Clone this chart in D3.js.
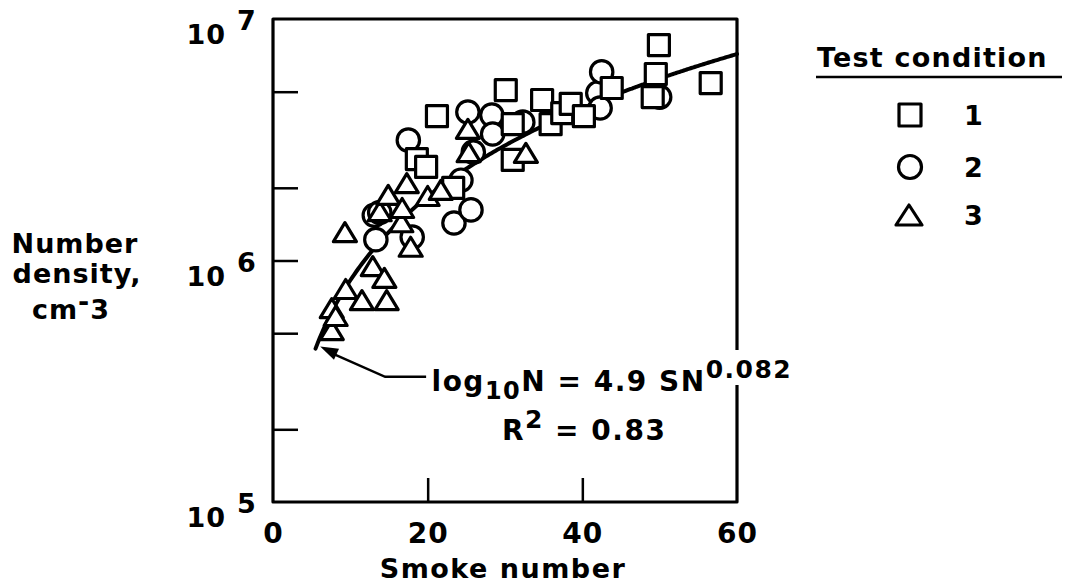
<!DOCTYPE html>
<html>
<head>
<meta charset="utf-8">
<script src="https://cdn.jsdelivr.net/npm/d3@7"></script>
<style>
  html, body { margin: 0; padding: 0; background: #fff; }
  text { font-family: "DejaVu Sans", "Liberation Sans", sans-serif; font-weight: bold; fill: #000; }
</style>
</head>
<body>
<svg id="chart" width="1068" height="583"></svg>
<script>
// ---- Data: smoke number (SN) vs particle number density (cm^-3) ----
// Test condition 1 (squares)
const cond1SN = [18.6, 19.8, 21.2, 23.3, 30.1, 31.0, 31.0, 34.8, 35.9, 37.4, 38.5, 40.2, 43.8, 49.1, 49.5, 49.9, 56.6];
const cond1N  = [2.63e6, 2.44e6, 3.96e6, 2.00e6, 5.08e6, 3.67e6, 2.61e6, 4.62e6, 3.67e6, 4.08e6, 4.45e6, 3.96e6, 5.18e6, 4.75e6, 5.92e6, 7.80e6, 5.43e6];
// Test condition 2 (circles)
const cond2SN = [17.5, 13.1, 13.8, 13.3, 18.0, 23.4, 25.6, 24.3, 25.9, 25.2, 28.3, 28.4, 32.3, 42.0, 42.5, 42.3, 50.0];
const cond2N  = [3.15e6, 1.54e6, 1.58e6, 1.22e6, 1.25e6, 1.43e6, 1.62e6, 2.15e6, 2.81e6, 4.12e6, 4.00e6, 3.34e6, 3.74e6, 4.94e6, 6.04e6, 4.28e6, 4.75e6];
// Test condition 3 (triangles)
const cond3SN = [9.3, 7.6, 7.6, 8.1, 9.4, 11.5, 14.7, 12.9, 14.4, 17.8, 16.6, 13.8, 14.9, 17.3, 20.0, 21.7, 25.2, 25.3, 32.7, 16.7];
const cond3N  = [1.31e6, 5.15e5, 6.35e5, 5.89e5, 7.62e5, 6.85e5, 6.85e5, 9.48e5, 8.47e5, 1.14e6, 1.44e6, 1.60e6, 1.87e6, 2.09e6, 1.85e6, 1.96e6, 3.51e6, 2.81e6, 2.79e6, 1.65e6];

// Regression fit: log10 N = 4.9 * SN^0.082
const fitCoef = 4.9;
const fitExp = 0.082;
const fitRange = [5.5, 60];

// Axis ticks and labels
const xLabelTicks = [0, 20, 40, 60];
const xInnerTicks = [20, 40];
const yInnerTicks = [2e5, 5e5, 1e6, 2e6, 5e6];
const yLabelExps = [5, 6, 7];
const legendItems = ["1", "2", "3"];

// ---- Layout ----
const svg = d3.select("#chart");
const plotL = 273, plotR = 737, plotT = 19, plotB = 502;
const x = d3.scaleLinear().domain([0, 60]).range([plotL, plotR]);
const y = d3.scaleLog().domain([1e5, 1e7]).range([plotB, plotT]);

const STROKE = 3.2;

// Marker shape paths (centred on the origin)
const squarePath = "M-10.5,-10.5H10.5V10.5H-10.5Z";
const circleR = 11.2;
const trianglePath = "M0,-9.5L11.5,9.5L-11.5,9.5Z";

// ---- Frame (right edge is broken where the equation exponent crosses it) ----
svg.append("path")
  .attr("d", `M${plotR},350V${plotT}H${plotL}V${plotB}H${plotR}V385`)
  .attr("fill", "none").attr("stroke", "#000").attr("stroke-width", 3.2)
  .attr("stroke-linejoin", "round");

// Inward ticks via d3 axes
const xTickAxis = d3.axisBottom(x).tickValues(xInnerTicks).tickSize(-24).tickFormat("");
const gxt = svg.append("g").attr("transform", `translate(0,${plotB})`).call(xTickAxis);
gxt.select(".domain").remove();
gxt.selectAll(".tick line").attr("stroke", "#000").attr("stroke-width", 2.5);

const yTickAxis = d3.axisLeft(y).tickValues(yInnerTicks).tickSize(-25).tickFormat("");
const gyt = svg.append("g").attr("transform", `translate(${plotL},0)`).call(yTickAxis);
gyt.select(".domain").remove();
gyt.selectAll(".tick line").attr("stroke", "#000").attr("stroke-width", 2.5);

// X tick labels
const xLabAxis = d3.axisBottom(x).tickValues(xLabelTicks).tickSize(0).tickPadding(0).tickFormat(d3.format("d"));
const gxl = svg.append("g").attr("transform", `translate(0,${plotB})`).call(xLabAxis);
gxl.select(".domain").remove();
gxl.selectAll(".tick text")
  .attr("y", 41).attr("dy", 0)
  .style("font-family", '"DejaVu Sans", sans-serif')
  .style("font-weight", "bold").style("font-size", "28px").style("letter-spacing", "1px")
  .attr("fill", "#000");

// Y labels: powers of ten
const yLab = svg.append("g");
yLabelExps.forEach(e => {
  const py = y(Math.pow(10, e));
  yLab.append("text").attr("x", 226).attr("y", py + 25)
    .attr("text-anchor", "end").style("font-size", "27px").style("letter-spacing", "1px").text("10");
  yLab.append("text").attr("x", 237).attr("y", py + 11)
    .style("font-size", "27px").text(String(e));
});

// Axis titles
svg.append("text").attr("x", 503).attr("y", 578).attr("text-anchor", "middle")
  .style("font-size", "27px").style("letter-spacing", "1.5px").text("Smoke number");

const yTitle = svg.append("text").attr("text-anchor", "middle").style("font-size", "27px").style("letter-spacing", "1px");
yTitle.append("tspan").attr("x", 75).attr("y", 253).text("Number");
yTitle.append("tspan").attr("x", 77).attr("y", 283).text("density,");
const cmLine = yTitle.append("tspan").attr("x", 71).attr("y", 319);
cmLine.append("tspan").text("cm");
cmLine.append("tspan").attr("dy", -8).text("-");
cmLine.append("tspan").attr("dy", 8).text("3");

// ---- Regression curve ----
const fitSN = d3.range(fitRange[0], fitRange[1] + 0.001, 0.25);
const fitLine = d3.line()
  .x(d => x(d))
  .y(d => y(Math.pow(10, fitCoef * Math.pow(d, fitExp))))
  .curve(d3.curveMonotoneX);
svg.append("path").datum(fitSN)
  .attr("d", fitLine)
  .attr("fill", "none").attr("stroke", "#000").attr("stroke-width", 4)
  .attr("stroke-linecap", "round");

// ---- Data markers ----
const toPts = (sn, n) => sn.map((v, i) => ({ sn: v, n: n[i] }));

svg.append("g").selectAll("circle").data(toPts(cond2SN, cond2N)).join("circle")
  .attr("cx", d => x(d.sn)).attr("cy", d => y(d.n)).attr("r", circleR)
  .attr("fill", "#fff").attr("stroke", "#000").attr("stroke-width", STROKE);

svg.append("g").selectAll("path").data(toPts(cond1SN, cond1N)).join("path")
  .attr("transform", d => `translate(${x(d.sn)},${y(d.n)})`).attr("d", squarePath)
  .attr("fill", "#fff").attr("stroke", "#000").attr("stroke-width", STROKE)
  .attr("stroke-linejoin", "round");

svg.append("g").selectAll("path").data(toPts(cond3SN, cond3N)).join("path")
  .attr("transform", d => `translate(${x(d.sn)},${y(d.n)})`).attr("d", trianglePath)
  .attr("fill", "#fff").attr("stroke", "#000").attr("stroke-width", STROKE)
  .attr("stroke-linejoin", "round");

// ---- Annotation: arrow to the fit curve and the equation ----
const tip = [x(6.1), y(4.4e5)];
const elbow = [x(14.5), y(3.3e5)];
const tail = [x(19.8), y(3.3e5)];
svg.append("path")
  .attr("d", `M${tip[0] + 8},${tip[1] + 5}L${elbow[0]},${elbow[1]}H${tail[0]}`)
  .attr("fill", "none").attr("stroke", "#000").attr("stroke-width", 2.5);
const ang = Math.atan2(elbow[1] - tip[1], elbow[0] - tip[0]);
const hl = 18, hw = 6;
const bx = tip[0] + hl * Math.cos(ang), by = tip[1] + hl * Math.sin(ang);
svg.append("path")
  .attr("d", `M${tip[0]},${tip[1]}L${bx - hw * Math.sin(ang)},${by + hw * Math.cos(ang)}L${bx + hw * Math.sin(ang)},${by - hw * Math.cos(ang)}Z`)
  .attr("fill", "#000");

const eq = svg.append("text").attr("x", x(20.5)).attr("y", y(2.88e5))
  .style("font-size", "28px").style("letter-spacing", "1.5px");
eq.append("tspan").text("log");
eq.append("tspan").attr("dy", 8).style("font-size", "24px").text("10");
eq.append("tspan").attr("dy", -8).text("N = " + fitCoef + " SN");
eq.append("tspan").attr("dy", -13).style("font-size", "25px").text(String(fitExp));

const r2 = svg.append("text").attr("x", x(29.6)).attr("y", y(1.81e5))
  .style("font-size", "28px").style("letter-spacing", "1.5px");
r2.append("tspan").text("R");
r2.append("tspan").attr("dy", -12).style("font-size", "25px").text("2");
r2.append("tspan").attr("dy", 12).text(" = 0.83");

// ---- Legend ----
const lg = svg.append("g");
lg.append("text").attr("x", 817).attr("y", 67).style("font-size", "27px").style("letter-spacing", "1.2px").text("Test condition");
lg.append("line").attr("x1", 816).attr("x2", 1062).attr("y1", 77).attr("y2", 77)
  .attr("stroke", "#000").attr("stroke-width", 2.5);

const legY = [115, 167, 215];
lg.append("path").attr("transform", `translate(910,${legY[0]})`).attr("d", "M-11,-11H11V11H-11Z")
  .attr("fill", "#fff").attr("stroke", "#000").attr("stroke-width", STROKE).attr("stroke-linejoin", "round");
lg.append("circle").attr("cx", 910).attr("cy", legY[1]).attr("r", 11.5)
  .attr("fill", "#fff").attr("stroke", "#000").attr("stroke-width", STROKE);
lg.append("path").attr("transform", `translate(909,${legY[2]})`).attr("d", "M0,-10L13,10L-13,10Z")
  .attr("fill", "#fff").attr("stroke", "#000").attr("stroke-width", STROKE).attr("stroke-linejoin", "round");
legendItems.forEach((t, i) => {
  lg.append("text").attr("x", 964).attr("y", legY[i] + 10).style("font-size", "27px").text(t);
});
</script>
</body>
</html>
